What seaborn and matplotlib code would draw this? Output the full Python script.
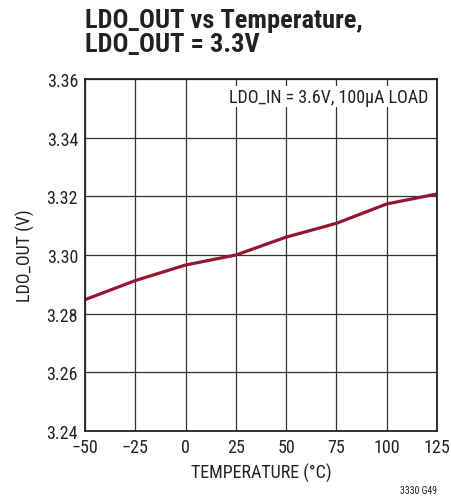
# LDO_OUT vs temperatura
import pandas as pd
import numpy as np
import matplotlib
matplotlib.use("Agg")
import matplotlib.pyplot as plt
import seaborn as sns

# Datos
temperatura = [-50, -25, 0, 25, 50, 75, 100, 125]
ldo_out = [3.2848, 3.2913, 3.2966, 3.3000, 3.3061, 3.3108, 3.3174, 3.3208]
xticks = [-50, -25, 0, 25, 50, 75, 100, 125]
xticklabels = ["\u221250", "\u221225", "0", "25", "50", "75", "100", "125"]
yticks = [3.24, 3.26, 3.28, 3.30, 3.32, 3.34, 3.36]

df = pd.DataFrame({"temp": temperatura, "vout": ldo_out})

sns.set_style("white")
plt.rcParams["font.family"] = ["Roboto Condensed", "Liberation Sans", "DejaVu Sans"]

fig = plt.figure(figsize=(4.52, 5.02), dpi=100)
ax = fig.add_axes([0.188, 0.139, 0.779, 0.702])

sns.lineplot(data=df, x="temp", y="vout", ax=ax, color="#931632", linewidth=2.3)

ax.set_xlim(-50, 125)
ax.set_ylim(3.24, 3.36)
ax.set_xticks(xticks)
ax.set_xticklabels(xticklabels)
ax.set_yticks(yticks)
ax.set_yticklabels([f"{v:.2f}" for v in yticks])
ax.tick_params(length=0, labelsize=13, colors="#222222", pad=5)
ax.grid(True, color="#333333", linewidth=0.9)
for s in ax.spines.values():
    s.set_color("#222222")
    s.set_linewidth(1.3)

ax.set_xlabel("TEMPERATURE (\u00b0C)", fontsize=13, color="#222222", labelpad=5)
ax.set_ylabel("LDO_OUT (V)", fontsize=13, color="#222222", labelpad=8)

ax.text(0.975, 0.975, "LDO_IN = 3.6V, 100\u00b5A LOAD", transform=ax.transAxes,
        ha="right", va="top", fontsize=13, color="#222222",
        bbox=dict(facecolor="white", edgecolor="none", pad=1))

fig.text(0.188, 0.983, "LDO_OUT vs Temperature,\nLDO_OUT = 3.3V", ha="left", va="top",
         fontsize=19, fontweight="bold", color="#222222", linespacing=1.0)
fig.text(0.967, 0.012, "3330 G49", ha="right", va="bottom", fontsize=7, color="#222222")

fig.savefig("out.png", dpi=100)
